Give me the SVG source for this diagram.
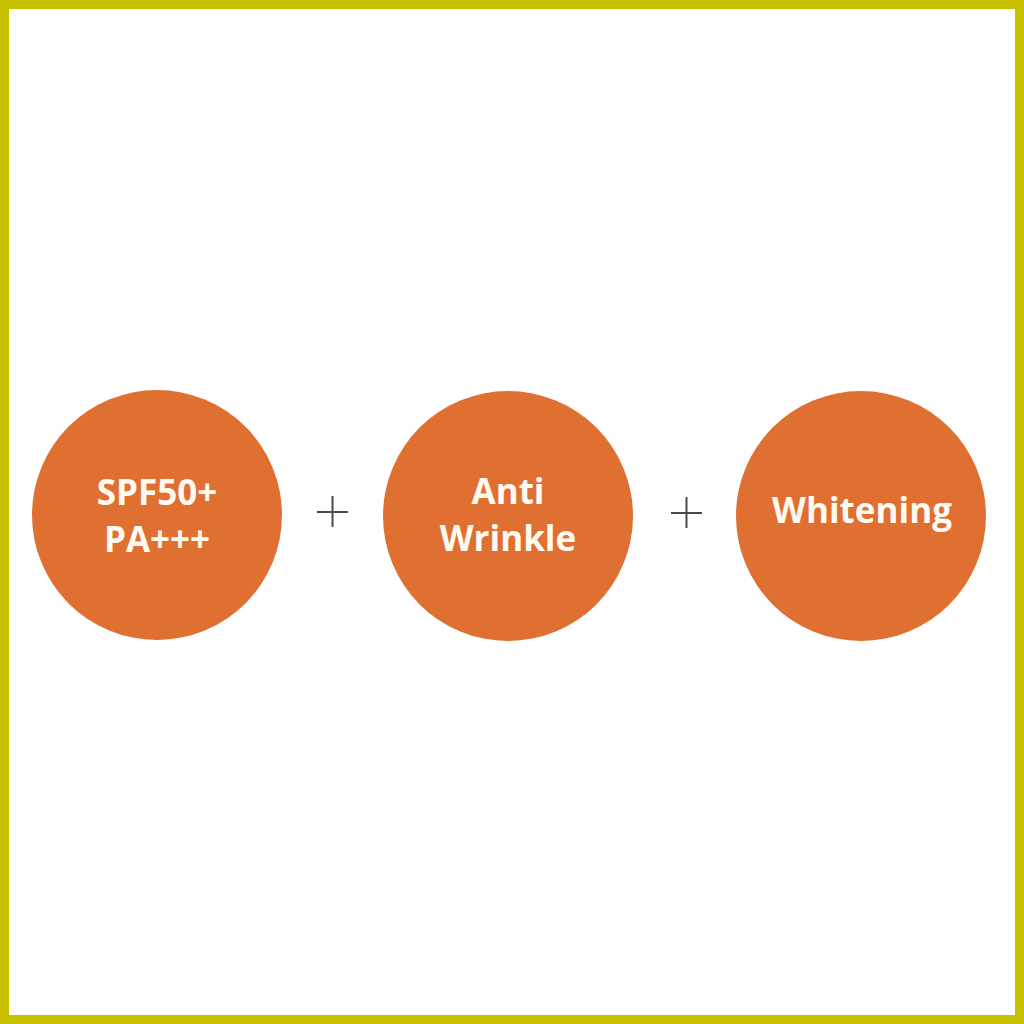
<svg xmlns="http://www.w3.org/2000/svg" width="1024" height="1024" viewBox="0 0 1024 1024">
  <style>
    .node { fill: #df7032; }
    .lbl { fill: #fffaf2; font-family: "Open Sans", "Noto Sans", "Liberation Sans", sans-serif; font-weight: 700; font-size: 35px; text-anchor: middle; }
    .plus { stroke: #4a4a4a; stroke-width: 2; fill: none; }
  </style>
  <rect x="0" y="0" width="1024" height="1024" fill="#c9c100"/>
  <rect x="9" y="9" width="1006" height="1006" fill="#ffffff"/>
  <g id="node-spf">
    <circle class="node" cx="157" cy="515" r="125"/>
    <text class="lbl" x="157" y="505">SPF50+</text>
    <text class="lbl" x="157" y="552">PA+++</text>
  </g>
  <g id="node-anti">
    <circle class="node" cx="508" cy="516" r="125"/>
    <text class="lbl" x="508" y="504">Anti</text>
    <text class="lbl" x="508" y="551">Wrinkle</text>
  </g>
  <g id="node-whitening">
    <circle class="node" cx="861" cy="516" r="125"/>
    <text class="lbl" x="862" y="523">Whitening</text>
  </g>
  <g id="connectors">
    <path class="plus" d="M317 512 H348 M332.5 496 V527"/>
    <path class="plus" d="M671 513 H702 M686.5 497 V528"/>
  </g>
</svg>
